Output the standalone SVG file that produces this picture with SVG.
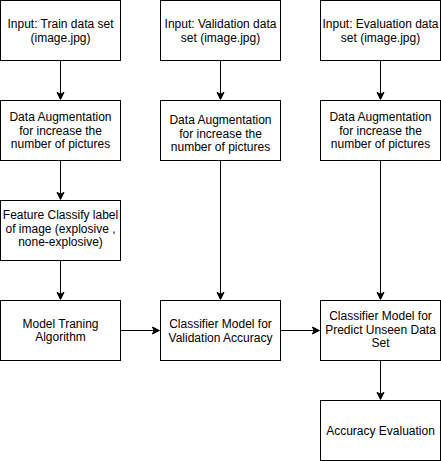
<svg xmlns="http://www.w3.org/2000/svg" width="441" height="461" viewBox="0 0 441 461">
<defs>
<style>
.box{fill:#ffffff;stroke:#000000;stroke-width:1}
.edge{fill:none;stroke:#000000;stroke-width:1}
.head{fill:#000000;stroke:#000000;stroke-width:1}
text{font-family:"Liberation Sans",Arial,Helvetica,sans-serif;font-size:12px;fill:#000000;text-anchor:middle}
</style>
</defs>
<rect x="0" y="0" width="441" height="461" fill="#ffffff"/>
<g transform="translate(0.5,0.5)">
<g id="connectors">
<path class="edge" d="M 60 60 L 60 93.63"/><path class="head" d="M 60 98.88 L 56.5 91.88 L 60 93.63 L 63.5 91.88 Z"/>
<path class="edge" d="M 60 160 L 60 193.63"/><path class="head" d="M 60 198.88 L 56.5 191.88 L 60 193.63 L 63.5 191.88 Z"/>
<path class="edge" d="M 60 260 L 60 293.63"/><path class="head" d="M 60 298.88 L 56.5 291.88 L 60 293.63 L 63.5 291.88 Z"/>
<path class="edge" d="M 220 60 L 220 93.63"/><path class="head" d="M 220 98.88 L 216.5 91.88 L 220 93.63 L 223.5 91.88 Z"/>
<path class="edge" d="M 220 160 L 220 293.63"/><path class="head" d="M 220 298.88 L 216.5 291.88 L 220 293.63 L 223.5 291.88 Z"/>
<path class="edge" d="M 380 60 L 380 93.63"/><path class="head" d="M 380 98.88 L 376.5 91.88 L 380 93.63 L 383.5 91.88 Z"/>
<path class="edge" d="M 380 160 L 380 293.63"/><path class="head" d="M 380 298.88 L 376.5 291.88 L 380 293.63 L 383.5 291.88 Z"/>
<path class="edge" d="M 380 360 L 380 393.63"/><path class="head" d="M 380 398.88 L 376.5 391.88 L 380 393.63 L 383.5 391.88 Z"/>
<path class="edge" d="M 120 330 L 153.63 330"/><path class="head" d="M 158.88 330 L 151.88 333.5 L 153.63 330 L 151.88 326.5 Z"/>
<path class="edge" d="M 280 330 L 313.63 330"/><path class="head" d="M 318.88 330 L 311.88 333.5 L 313.63 330 L 311.88 326.5 Z"/>
</g>
<g id="train-input"><rect class="box" x="0" y="0" width="120" height="60"/><text x="60" y="27">Input: Train data set</text><text x="60" y="41">(image.jpg)</text></g>
<g id="train-aug"><rect class="box" x="0" y="100" width="120" height="60"/><text x="60" y="120.5">Data Augmentation</text><text x="60" y="134">for increase the</text><text x="60" y="147.5">number of pictures</text></g>
<g id="feature"><rect class="box" x="0" y="200" width="120" height="60"/><text x="60" y="218.5">Feature Classify label</text><text x="60" y="232">of image (explosive ,</text><text x="60" y="245.5">none-explosive)</text></g>
<g id="training"><rect class="box" x="0" y="300" width="120" height="60"/><text x="60" y="327">Model Traning</text><text x="60" y="340.5">Algorithm</text></g>
<g id="val-input"><rect class="box" x="160" y="0" width="120" height="60"/><text x="220" y="27">Input: Validation data</text><text x="220" y="41">set (image.jpg)</text></g>
<g id="val-aug"><rect class="box" x="160" y="100" width="120" height="60"/><text x="220" y="123.5">Data Augmentation</text><text x="220" y="137">for increase the</text><text x="220" y="150.5">number of pictures</text></g>
<g id="val-classifier"><rect class="box" x="160" y="300" width="120" height="60"/><text x="220" y="327">Classifier Model for</text><text x="220" y="341">Validation Accuracy</text></g>
<g id="eval-input"><rect class="box" x="320" y="0" width="120" height="60"/><text x="380" y="27">Input: Evaluation data</text><text x="380" y="41">set (image.jpg)</text></g>
<g id="eval-aug"><rect class="box" x="320" y="100" width="120" height="60"/><text x="380" y="120.5">Data Augmentation</text><text x="380" y="134">for increase the</text><text x="380" y="147.5">number of pictures</text></g>
<g id="predict"><rect class="box" x="320" y="300" width="120" height="60"/><text x="380" y="319.5">Classifier Model for</text><text x="380" y="333">Predict Unseen Data</text><text x="380" y="346.5">Set</text></g>
<g id="accuracy"><rect class="box" x="320" y="400" width="120" height="60"/><text x="380" y="434">Accuracy Evaluation</text></g>
</g>
</svg>
